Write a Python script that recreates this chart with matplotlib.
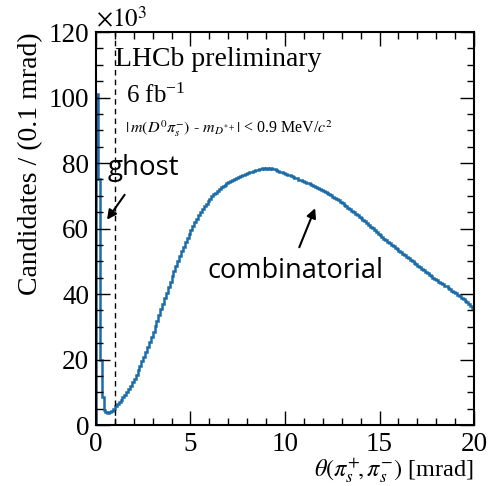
import numpy as np
import matplotlib.pyplot as plt
from matplotlib.ticker import MultipleLocator

plt.rcParams['font.family'] = 'Liberation Serif'
plt.rcParams['mathtext.fontset'] = 'stix'

# opening angle histogram, 0.1 mrad bins, counts in units of 1e3
edges = np.arange(0, 20.01, 0.1)
counts = [
    101.0, 75.0, 20.0, 8.5, 4.6, 3.9, 3.8, 3.9, 4.3, 5.0,
    5.7, 6.3, 7.0, 7.7, 8.5, 9.3, 10.1, 11.0, 12.0, 13.1,
    14.2, 15.4, 16.7, 18.0, 19.4, 20.8, 22.3, 23.8, 25.3, 26.9,
    28.5, 30.2, 31.9, 33.6, 35.3, 37.0, 38.7, 40.4, 42.1, 43.8,
    45.4, 47.0, 48.6, 50.1, 51.6, 53.0, 54.4, 55.8, 57.1, 58.4,
    59.6, 60.8, 61.9, 63.0, 64.0, 65.0, 65.9, 66.8, 67.6, 68.4,
    69.1, 69.8, 70.4, 71.0, 71.6, 72.1, 72.6, 73.0, 73.4, 73.8,
    74.1, 74.5, 74.8, 75.1, 75.4, 75.7, 76.0, 76.3, 76.5, 76.8,
    77.0, 77.3, 77.4, 77.7, 77.8, 77.9, 78.2, 78.1, 78.4, 78.3,
    78.5, 78.3, 78.4, 78.1, 78.1, 77.8, 77.7, 77.4, 77.3, 77.0,
    76.8, 76.5, 76.3, 76.0, 75.8, 75.4, 75.3, 74.9, 74.8, 74.4,
    74.3, 73.9, 73.8, 73.5, 73.3, 72.9, 72.8, 72.4, 72.2, 71.8,
    71.6, 71.1, 70.9, 70.4, 70.2, 69.7, 69.4, 68.9, 68.6, 68.1,
    67.8, 67.2, 66.9, 66.4, 66.0, 65.4, 65.1, 64.5, 64.2, 63.6,
    63.3, 62.7, 62.3, 61.7, 61.2, 60.6, 60.1, 59.5, 59.0, 58.4,
    57.9, 57.5, 56.9, 56.6, 56.0, 55.6, 55.0, 54.7, 54.1, 53.7,
    53.2, 52.8, 52.2, 51.9, 51.3, 51.0, 50.4, 50.1, 49.5, 49.2,
    48.6, 48.3, 47.7, 47.4, 46.8, 46.5, 45.9, 45.6, 45.0, 44.7,
    44.2, 43.8, 43.4, 43.1, 42.6, 42.3, 41.8, 41.5, 41.0, 40.6,
    40.2, 39.7, 39.4, 38.8, 38.4, 37.9, 37.5, 36.9, 36.4, 35.6,
]

line_col = '#1b6ca8'

fig = plt.figure(figsize=(4.91, 4.86), dpi=100)
ax = fig.add_axes([0.1955, 0.1255, 0.7699, 0.8085])

ax.stairs(counts, edges, color=line_col, lw=1.8, baseline=0)
ax.axvline(1.0, color='k', ls=(0, (4, 3)), lw=1.0)

ax.set_xlim(0, 20)
ax.set_ylim(0, 120)
ax.xaxis.set_major_locator(MultipleLocator(5))
ax.xaxis.set_minor_locator(MultipleLocator(1))
ax.yaxis.set_major_locator(MultipleLocator(20))
ax.yaxis.set_minor_locator(MultipleLocator(5))
ax.tick_params(which='both', direction='in', top=True, right=True,
               labelsize=19.5, width=1.0)
ax.tick_params(which='major', length=10, pad=5)
ax.tick_params(which='minor', length=5)
for s in ax.spines.values():
    s.set_linewidth(1.5)

ax.set_ylabel('Candidates / (0.1 mrad)', fontsize=20, loc='top', labelpad=4)
ax.set_xlabel(r'$\theta(\pi_s^{+}\!,\pi_s^{-})$ [mrad]', fontsize=17.5,
              loc='right', labelpad=-0.5)
ax.text(0.0, 1.0, r'$\times10^{3}$', transform=ax.transAxes,
        fontsize=18, va='bottom', ha='left')

ax.text(1.0, 111.5, 'LHCb preliminary', fontsize=20, va='center')
ax.text(1.6, 100.5, r'6 fb$^{\mathregular{-1}}$', fontsize=18, va='center')
ax.text(1.55, 90.5, r'$|\,m(D^{0}\pi_s^{-})$ - $m_{D^{*+}}|$ < 0.9 MeV/$c^{2}$',
        fontsize=11.5, va='center')

ax.text(0.6, 78.5, 'ghost', fontsize=20, family='Open Sans', va='center')
ax.annotate('', xy=(0.5, 62), xytext=(1.6, 71),
            arrowprops=dict(arrowstyle='-|>', color='k', lw=1.5,
                            mutation_scale=14))
ax.text(5.9, 47, 'combinatorial', fontsize=19.5, family='Open Sans',
        va='center')
ax.annotate('', xy=(11.65, 67), xytext=(10.7, 53.5),
            arrowprops=dict(arrowstyle='-|>', color='k', lw=1.5,
                            mutation_scale=14))

fig.savefig('out.png', dpi=100)
